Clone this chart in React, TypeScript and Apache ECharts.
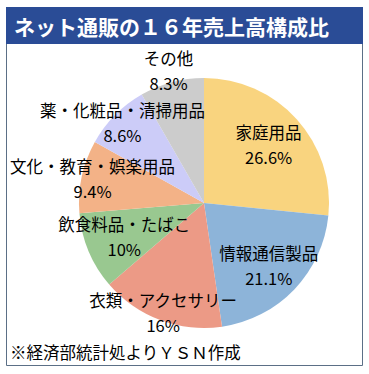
import React, { useEffect, useRef } from "react";
import * as echarts from "echarts";

const categories = [
  "家庭用品",
  "情報通信製品",
  "衣類・アクセサリー",
  "飲食料品・たばこ",
  "文化・教育・娯楽用品",
  "薬・化粧品・清掃用品",
  "その他",
];
const shares = [26.6, 21.1, 16, 10, 9.4, 8.6, 8.3];
const colors = ["#F9D47F", "#8DB4D9", "#EC9A86", "#99C890", "#F3B287", "#CCCCF8", "#CCCCCC"];
// label distance from centre, as a multiple of the library's default "inside" distance
const labelPush = [1.33, 1.37, 1.78, 1.32, 1.74, 1.75, 2.1];

const titleText = "ネット通販の１６年売上高構成比";
const footerText = "※経済部統計処よりＹＳＮ作成";

const FONT = '"Noto Sans CJK JP", "Noto Sans", sans-serif';
const CX = 204;
const CY = 203;

export default function App() {
  const ref = useRef<HTMLDivElement>(null);
  useEffect(() => {
    if (!ref.current) return;
    const chart = echarts.init(ref.current, null, { renderer: "svg" });
    chart.setOption({
      animation: false,
      backgroundColor: "#ffffff",
      graphic: [
        {
          type: "rect",
          shape: { x: 6.5, y: 7.5, width: 356, height: 358 },
          style: { fill: "#ffffff", stroke: "#5B6F86", lineWidth: 1 },
          z: 0,
        },
        {
          type: "rect",
          shape: { x: 6, y: 7, width: 357, height: 37 },
          style: { fill: "#2A4C96" },
          z: 1,
        },
        {
          type: "text",
          x: 14,
          y: 26,
          style: {
            text: titleText,
            fill: "#ffffff",
            font: `bold 21px ${FONT}`,
            verticalAlign: "middle",
          },
          z: 2,
        },
        {
          type: "text",
          x: 10,
          y: 352,
          style: {
            text: footerText,
            fill: "#000000",
            font: `16.5px ${FONT}`,
            verticalAlign: "middle",
          },
          z: 2,
        },
      ],
      series: [
        {
          type: "pie",
          center: [CX, CY],
          radius: [0, 125],
          startAngle: 90,
          clockwise: true,
          silent: true,
          z: 3,
          itemStyle: { borderWidth: 0 },
          label: {
            show: true,
            position: "inside",
            formatter: (p: any) => `${p.name}\n${p.value}%`,
            fontSize: 16.5,
            lineHeight: 25,
            color: "#000000",
            fontFamily: FONT,
          },
          labelLine: { show: false },
          labelLayout: (params: any) => {
            const r = params.labelRect;
            const lx = r.x + r.width / 2;
            const ly = r.y + r.height / 2;
            const f = labelPush[params.dataIndex];
            return { dx: (lx - CX) * (f - 1), dy: (ly - CY) * (f - 1) };
          },
          data: categories.map((name, i) => ({
            name,
            value: shares[i],
            itemStyle: { color: colors[i] },
          })),
        },
      ],
    });
    return () => chart.dispose();
  }, []);
  return (
    <div
      ref={ref}
      style={{ position: "fixed", left: 0, top: 0, width: 369, height: 374 }}
    />
  );
}
